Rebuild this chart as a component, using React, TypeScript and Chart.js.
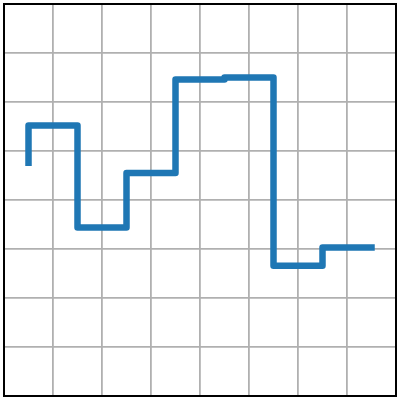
import React, { useEffect, useRef } from 'react';
import { Chart, registerables } from 'chart.js';

Chart.register(...registerables);

// step positions (grid units) and values
const xs = [0.5, 1.5, 2.5, 3.5, 4.5, 5.5, 6.5, 7.5];
const ys = [4.76, 5.52, 3.44, 4.55, 6.46, 6.5, 2.66, 3.03];
const gridTicks = [0, 1, 2, 3, 4, 5, 6, 7, 8];

const frameBox = {
    id: 'frameBox',
    afterDraw(chart: Chart) {
        const { ctx, chartArea } = chart;
        ctx.save();
        ctx.strokeStyle = '#000';
        ctx.lineWidth = 2;
        ctx.strokeRect(chartArea.left, chartArea.top, chartArea.right - chartArea.left, chartArea.bottom - chartArea.top);
        ctx.restore();
    }
};

export default function App() {
    const canvasRef = useRef<HTMLCanvasElement | null>(null);
    const chartRef = useRef<Chart | null>(null);

    useEffect(() => {
        document.body.style.margin = '0';
        if (!canvasRef.current) return;
        const ctx = canvasRef.current.getContext('2d');
        if (!ctx) return;
        if (chartRef.current) chartRef.current.destroy();

        const axis = {
            type: 'linear' as const,
            min: 0,
            max: 8,
            afterBuildTicks: (scale: any) => {
                scale.ticks = gridTicks.map((v) => ({ value: v }));
            },
            ticks: { display: false },
            grid: { color: '#b0b0b0', lineWidth: 1.8, drawTicks: false },
            border: { display: false }
        };

        chartRef.current = new Chart(ctx, {
            type: 'line',
            data: {
                datasets: [
                    {
                        data: xs.map((x, i) => ({ x, y: ys[i] })),
                        borderColor: '#1f77b4',
                        borderWidth: 6.5,
                        borderCapStyle: 'square',
                        borderJoinStyle: 'round',
                        stepped: 'after',
                        pointRadius: 0,
                        fill: false
                    }
                ]
            },
            options: {
                responsive: false,
                animation: false,
                layout: { padding: 4 },
                scales: { x: axis, y: axis },
                plugins: {
                    legend: { display: false },
                    tooltip: { enabled: false }
                }
            },
            plugins: [frameBox]
        });

        return () => {
            if (chartRef.current) {
                chartRef.current.destroy();
                chartRef.current = null;
            }
        };
    }, []);

    return <canvas ref={canvasRef} width={400} height={400}></canvas>;
}
